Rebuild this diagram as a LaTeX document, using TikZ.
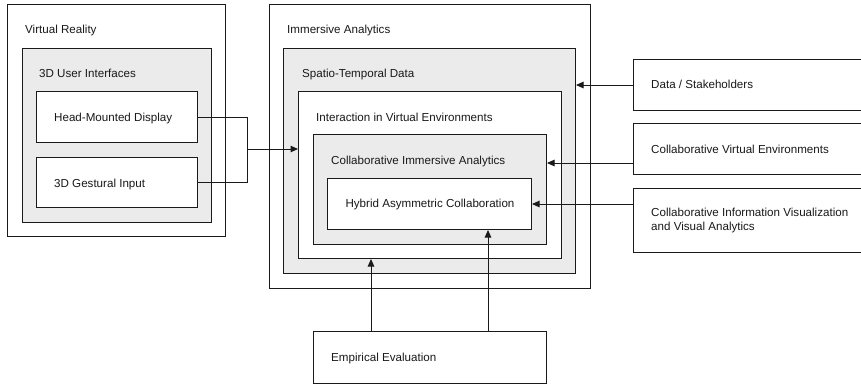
\documentclass[tikz,border=0pt]{standalone}
\usepackage{fontspec}
\setmainfont{Liberation Sans}
\usetikzlibrary{arrows.meta,calc}

\definecolor{panelgray}{HTML}{EBEBEB}
\definecolor{edge}{HTML}{1A1A1A}

\tikzset{
  box/.style={draw=edge, line width=1pt, fill=white, rectangle, inner sep=0pt},
  graybox/.style={box, fill=panelgray},
  lbl/.style={anchor=base west, inner sep=0pt, font=\fontsize{11.6}{14}\selectfont, text=black!90},
  conn/.style={draw=edge, line width=1pt},
  arr/.style={conn, -{Triangle[length=7.5pt,width=6.5pt]}}
}

% draw a box from its top-left to its bottom-right corner (image-style coordinates)
\newcommand{\boxat}[6]{%
  \node[#1, anchor=north west, minimum width=#4-#2, minimum height=#5-#3] (#6) at (#2,#3) {};}

\begin{document}
\begin{tikzpicture}[x=1pt,y=-1pt]
\useasboundingbox (0,0) rectangle (861,384);

% ---- Virtual Reality ----
\boxat{box}{7}{4}{225}{236}{vr}
\node[lbl] (vrT) at (25,33.2) {Virtual Reality};
\boxat{graybox}{22}{48}{211}{222}{ui}
\node[lbl] (uiT) at (39,77.2) {3D User Interfaces};
\boxat{box}{36}{91}{197}{142}{hmd}
\node[lbl] (hmdT) at (54,121.2) {Head-Mounted Display};
\boxat{box}{36}{157}{197}{207}{gest}
\node[lbl] (gestT) at (54,187.2) {3D Gestural Input};

% ---- Immersive Analytics ----
\boxat{box}{269}{4}{590}{288}{ia}
\node[lbl] (iaT) at (287,33.2) {Immersive Analytics};
\boxat{graybox}{283}{48}{575}{273}{st}
\node[lbl] (stT) at (302,77.2) {Spatio-Temporal Data};
\boxat{box}{298}{91}{561}{258}{ive}
\node[lbl] (iveT) at (316,121.2) {Interaction in Virtual Environments};
\boxat{graybox}{313}{134}{546}{244}{cia}
\node[lbl] (ciaT) at (331,164.2) {Collaborative Immersive Analytics};
\boxat{box}{327}{178}{531}{229}{hac}
\node[lbl, anchor=base] (hacT) at (430,207.2) {Hybrid Asymmetric Collaboration};

% ---- outside sources ----
\boxat{box}{633}{59}{872}{110}{ds}
\node[lbl] (dsT) at (651,88.2) {Data / Stakeholders};
\boxat{box}{633}{123}{872}{174}{cve}
\node[lbl] (cveT) at (651,153.2) {Collaborative Virtual Environments};
\boxat{box}{633}{188}{872}{252}{civ}
\node[lbl, anchor=west, align=left] (civT) at (651,220) {Collaborative Information Visualization\\and Visual Analytics};

\boxat{box}{313}{331}{546}{383}{ee}
\node[lbl] (eeT) at (331,361.2) {Empirical Evaluation};

% ---- connectors ----
\coordinate (join) at (247,149);
\draw[conn] (hmd.east) -| (join);
\draw[conn] (gest.east) -| (join);
\draw[arr] (join) -- (join -| ive.west);

\draw[arr] (ds.west) -- (ds.west -| st.east);
\coordinate (cveOut) at ($(cve.north west)+(0,40)$);
\draw[arr] (cveOut) -- (cveOut -| cia.east);
\draw[arr] (civ.west |- hac.east) -- (hac.east);

\coordinate (eeA) at ($(ee.north west)+(58,0)$);
\coordinate (eeB) at ($(ee.north west)+(175,0)$);
\draw[arr] (eeA) -- (eeA |- ive.south);
\draw[arr] (eeB) -- (eeB |- hac.south);
\end{tikzpicture}
\end{document}
